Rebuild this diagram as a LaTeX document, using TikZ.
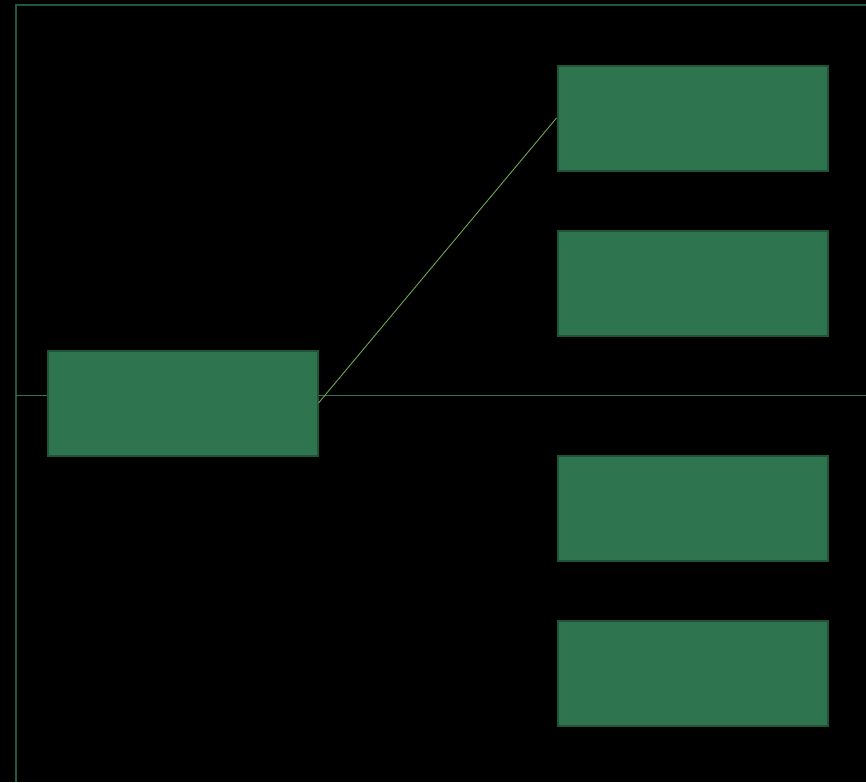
\documentclass[tikz,border=0pt]{standalone}
\begin{document}
\begin{tikzpicture}[x=1pt,y=-1pt,
  box/.style={draw=boxedge,fill=boxfill,line width=2pt,minimum width=270pt,minimum height=105pt,inner sep=0pt,anchor=north west},
  axis/.style={draw=axiscol,line width=2.2pt},
  midline/.style={draw=midcol,line width=1.3pt},
  conn/.style={draw=conncol,line width=0.9pt}]
\definecolor{boxfill}{RGB}{46,116,79}
\definecolor{boxedge}{RGB}{32,84,55}
\definecolor{axiscol}{RGB}{34,88,58}
\definecolor{midcol}{RGB}{62,110,82}
\definecolor{conncol}{RGB}{110,165,80}
\fill[black] (0,0) rectangle (866,782);
\useasboundingbox (0,0) rectangle (866,782);
\coordinate (o) at (16,5);
\coordinate (tr) at (866,5);
\coordinate (bl) at (16,782);
\draw[axis] (bl) -- (o) -- (tr);
\coordinate (ml) at (16,395.5);
\coordinate (mr) at (866,395.5);
\draw[midline] (ml) -- (mr);
\node[box] (root) at (46.5,349.5) {};
\node[box] (a) at (556.5,64.5) {};
\node[box] (b) at (556.5,229.5) {};
\node[box] (c) at (556.5,454.5) {};
\node[box] (d) at (556.5,619.5) {};
\draw[conn] (root.east) -- (a.west);
\end{tikzpicture}
\end{document}
